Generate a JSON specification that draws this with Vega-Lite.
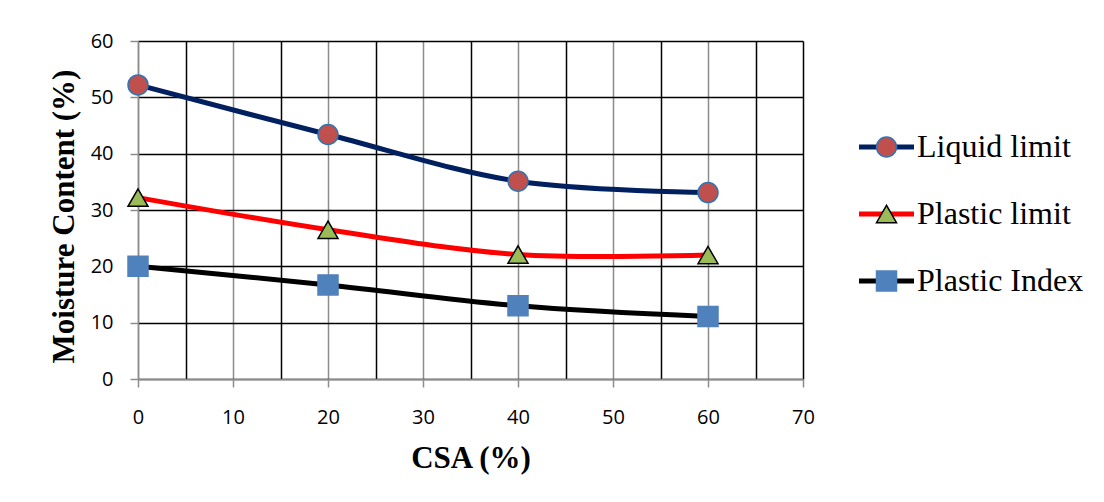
{
  "$schema": "https://vega.github.io/schema/vega-lite/v6.json",
  "width": 665,
  "height": 338,
  "autosize": {"type": "none"},
  "padding": {"left": 138, "top": 41, "right": 301, "bottom": 123},
  "background": "white",
  "config": {
    "view": {"stroke": null},
    "axis": {
      "labelFont": "Open Sans",
      "labelFontSize": 20,
      "labelColor": "#000000",
      "titleFont": "Liberation Serif",
      "titleFontWeight": "bold",
      "titleFontSize": 31,
      "titleColor": "#000000",
      "domainColor": "#8C8C8C",
      "domainWidth": 1.5,
      "tickSize": 8,
      "tickWidth": 1.5,
      "gridWidth": 1.5,
      "gridOpacity": 1,
      "labelOverlap": false,
      "labelFlush": false
    },
    "legend": {
      "labelFont": "Liberation Serif",
      "labelFontSize": 32,
      "labelFontWeight": "normal",
      "labelColor": "#000000",
      "labelLimit": 300,
      "padding": 0,
      "rowPadding": 35,
      "symbolOffset": 17.5,
      "labelOffset": 14.5
    }
  },
  "data": {
    "values": [
      {"series": "Liquid limit", "csa": 0, "mc": 52.2},
      {"series": "Liquid limit", "csa": 20, "mc": 43.4},
      {"series": "Liquid limit", "csa": 40, "mc": 35.1},
      {"series": "Liquid limit", "csa": 60, "mc": 33.1},
      {"series": "Plastic limit", "csa": 0, "mc": 32.2},
      {"series": "Plastic limit", "csa": 20, "mc": 26.5},
      {"series": "Plastic limit", "csa": 40, "mc": 22.1},
      {"series": "Plastic limit", "csa": 60, "mc": 22.0},
      {"series": "Plastic Index", "csa": 0, "mc": 20.0},
      {"series": "Plastic Index", "csa": 20, "mc": 16.7},
      {"series": "Plastic Index", "csa": 40, "mc": 13.0},
      {"series": "Plastic Index", "csa": 60, "mc": 11.1}
    ]
  },
  "layer": [
    {
      "mark": {"type": "line", "interpolate": "catmull-rom", "strokeWidth": 5},
      "encoding": {
        "x": {
          "field": "csa",
          "type": "quantitative",
          "scale": {"domain": [0, 70], "nice": false, "zero": true},
          "axis": {
            "title": "CSA (%)",
            "values": [0, 5, 10, 15, 20, 25, 30, 35, 40, 45, 50, 55, 60, 65, 70],
            "labelExpr": "datum.value % 10 === 0 ? datum.label : ''",
            "labelPadding": 20,
            "grid": true,
            "gridColor": {"condition": {"test": "datum.value % 10 === 5 || datum.value === 70", "value": "#000000"}, "value": "#8C8C8C"},
            "tickColor": "#8C8C8C",
            "tickOpacity": {"condition": {"test": "datum.value % 10 === 0", "value": 1}, "value": 0},
            "titleBaseline": "alphabetic",
            "titleY": 88
          }
        },
        "y": {
          "field": "mc",
          "type": "quantitative",
          "scale": {"domain": [0, 60], "nice": false},
          "axis": {
            "title": "Moisture Content (%)",
            "values": [0, 5, 10, 15, 20, 25, 30, 35, 40, 45, 50, 55, 60],
            "labelExpr": "datum.value % 10 === 0 ? datum.label : ''",
            "labelPadding": 17,
            "grid": true,
            "gridColor": {"condition": {"test": "datum.value % 10 === 0", "value": "#000000"}, "value": "#BFBFBF"},
            "tickColor": "#8C8C8C",
            "tickOpacity": {"condition": {"test": "datum.value % 10 === 0", "value": 1}, "value": 0},
            "titleBaseline": "alphabetic",
            "titleAlign": "center",
            "titleX": -65,
            "titleY": 175
          }
        },
        "color": {
          "field": "series",
          "type": "nominal",
          "scale": {"domain": ["Liquid limit", "Plastic limit", "Plastic Index"], "range": ["#002060", "#FF0000", "#000000"]},
          "legend": {
            "orient": "none",
            "legendX": 715,
            "legendY": 90,
            "title": null,
            "symbolType": "M-2.75,0H2.75",
            "symbolSize": 400,
            "symbolStrokeWidth": 5,
            "labelFont": "Liberation Serif",
            "labelFontSize": 32,
            "zindex": 1
          }
        }
      }
    },
    {
      "mark": {"type": "point", "filled": true, "size": 400, "strokeWidth": 1.5, "opacity": 1},
      "encoding": {
        "x": {"field": "csa", "type": "quantitative"},
        "y": {"field": "mc", "type": "quantitative"},
        "shape": {
          "field": "series",
          "type": "nominal",
          "sort": null,
          "scale": {"range": ["circle", "triangle-up", "square"]},
          "legend": {
            "orient": "none",
            "legendX": 715,
            "legendY": 90,
            "title": null,
            "symbolSize": 400,
            "symbolStrokeWidth": 1.5,
            "labelFont": "Liberation Serif",
            "labelFontSize": 32,
            "labelOpacity": 0,
            "zindex": 2
          }
        },
        "fill": {
          "field": "series",
          "type": "nominal",
          "sort": null,
          "scale": {"range": ["#C0504D", "#9BBB59", "#4F81BD"]},
          "legend": {
            "orient": "none",
            "legendX": 715,
            "legendY": 90,
            "title": null,
            "symbolSize": 400,
            "symbolStrokeWidth": 1.5,
            "labelFont": "Liberation Serif",
            "labelFontSize": 32,
            "labelOpacity": 0,
            "zindex": 2
          }
        },
        "stroke": {
          "field": "series",
          "type": "nominal",
          "sort": null,
          "scale": {"range": ["#2E75B6", "#000000", "#4F81BD"]},
          "legend": {
            "orient": "none",
            "legendX": 715,
            "legendY": 90,
            "title": null,
            "symbolSize": 400,
            "symbolStrokeWidth": 1.5,
            "labelFont": "Liberation Serif",
            "labelFontSize": 32,
            "labelOpacity": 0,
            "zindex": 2
          }
        }
      }
    }
  ]
}
